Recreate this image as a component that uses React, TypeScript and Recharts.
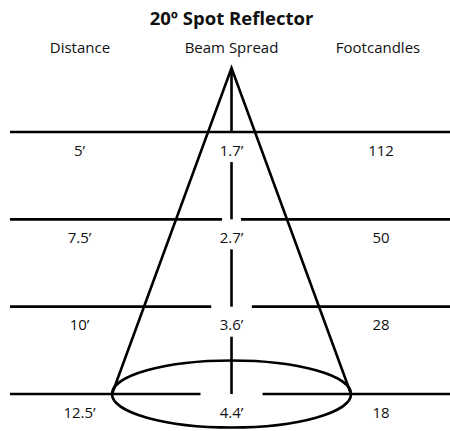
import React from 'react';
import { ComposedChart, Line, XAxis, YAxis, ReferenceLine, ReferenceArea, ReferenceDot } from 'recharts';

// table values
const distances = [5, 7.5, 10, 12.5];
const distanceLabels = ['5’', '7.5’', '10’', '12.5’'];
const beamSpread = [1.7, 2.7, 3.6, 4.4];
const footcandles = [112, 50, 28, 18];
const headers = ['Distance', 'Beam Spread', 'Footcandles'];
const title = '20º Spot Reflector';

// diagram layout (x in feet of spread, y in feet of distance)
const X_DOMAIN: [number, number] = [-4.262, 4.022];
const Y_DOMAIN: [number, number] = [1.221, 13.559];
const APEX_DIST = 3.168;
const LINE_START = -4.078;
const GAP_HALF = [0, 0.175, 0.374, 0.571];
const SEG_START_OFFSET = 0.86;
const ELLIPSE_DEPTH = 0.96;
const COL_X = [-2.798, 0, 2.752];
const HEADER_X = [-2.79, 0, 2.697];
const TITLE_Y = 1.736;
const HEADER_Y = 2.567;
const LABEL_DY = 17.5;

const INK = '#000';
const SW = 2.6;
const FONT = '"Open Sans", "Noto Sans", sans-serif';

const half = beamSpread[beamSpread.length - 1] / 2;
const bottom = distances[distances.length - 1];
const cone = [
  { x: -half, y: bottom },
  { x: 0, y: APEX_DIST },
  { x: half, y: bottom },
];

const textShape = (txt: string, size: number, weight: number, dy: number) => (p: any) => (
  <text
    x={p.cx}
    y={p.cy + dy}
    textAnchor="middle"
    dominantBaseline="central"
    fontFamily={FONT}
    fontSize={size}
    fontWeight={weight}
    fill="#111"
  >
    {txt}
  </text>
);

export default function App() {
  return (
    <div style={{ position: 'absolute', left: 0, top: 0, background: '#fff' }}>
      <ComposedChart width={450} height={431} data={cone} margin={{ top: 0, right: 0, bottom: 0, left: 0 }}>
        <XAxis type="number" dataKey="x" domain={X_DOMAIN} allowDataOverflow hide />
        <YAxis type="number" domain={Y_DOMAIN} reversed allowDataOverflow hide />

        {distances.map((d, i) =>
          GAP_HALF[i] === 0 ? (
            <ReferenceLine key={'h' + i} segment={[{ x: LINE_START, y: d }, { x: X_DOMAIN[1], y: d }]} stroke={INK} strokeWidth={SW} ifOverflow="visible" />
          ) : (
            <React.Fragment key={'h' + i}>
              <ReferenceLine segment={[{ x: LINE_START, y: d }, { x: -GAP_HALF[i], y: d }]} stroke={INK} strokeWidth={SW} ifOverflow="visible" />
              <ReferenceLine segment={[{ x: GAP_HALF[i], y: d }, { x: X_DOMAIN[1], y: d }]} stroke={INK} strokeWidth={SW} ifOverflow="visible" />
            </React.Fragment>
          )
        )}

        {distances.map((d, i) => (
          <ReferenceLine
            key={'v' + i}
            segment={[{ x: 0, y: i === 0 ? APEX_DIST : distances[i - 1] + SEG_START_OFFSET }, { x: 0, y: d }]}
            stroke={INK}
            strokeWidth={SW}
            ifOverflow="visible"
          />
        ))}

        <ReferenceArea
          x1={-half}
          x2={half}
          y1={bottom - ELLIPSE_DEPTH}
          y2={bottom + ELLIPSE_DEPTH}
          ifOverflow="visible"
          shape={(p: any) => (
            <ellipse
              cx={p.x + p.width / 2}
              cy={p.y + p.height / 2}
              rx={p.width / 2}
              ry={p.height / 2}
              fill="none"
              stroke={INK}
              strokeWidth={SW}
            />
          )}
        />

        <Line
          type="linear"
          dataKey="y"
          stroke={INK}
          strokeWidth={SW}
          dot={false}
          activeDot={false}
          legendType="none"
          isAnimationActive={false}
          strokeLinejoin="miter"
        />

        <ReferenceDot x={0} y={TITLE_Y} r={0} ifOverflow="visible" shape={textShape(title, 18.5, 700, 0)} />
        {headers.map((h, i) => (
          <ReferenceDot key={'hd' + i} x={HEADER_X[i]} y={HEADER_Y} r={0} ifOverflow="visible" shape={textShape(h, 15, 400, 0)} />
        ))}

        {distances.map((d, i) => (
          <React.Fragment key={'t' + i}>
            <ReferenceDot x={COL_X[0]} y={d} r={0} ifOverflow="visible" shape={textShape(distanceLabels[i], 15, 400, LABEL_DY)} />
            <ReferenceDot x={COL_X[1]} y={d} r={0} ifOverflow="visible" shape={textShape(beamSpread[i] + '’', 15, 400, LABEL_DY)} />
            <ReferenceDot x={COL_X[2]} y={d} r={0} ifOverflow="visible" shape={textShape(String(footcandles[i]), 15, 400, LABEL_DY)} />
          </React.Fragment>
        ))}
      </ComposedChart>
    </div>
  );
}
